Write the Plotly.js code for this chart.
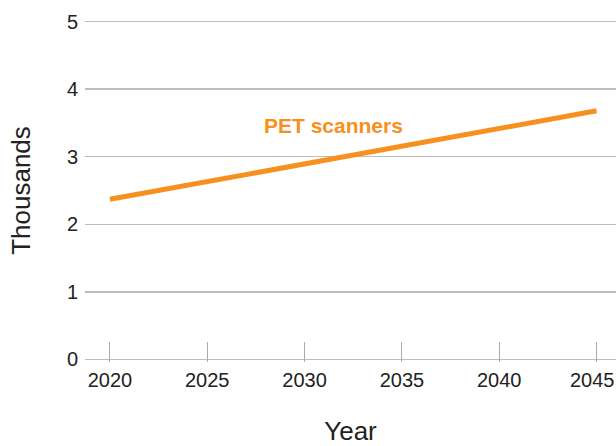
<!DOCTYPE html>
<html>
<head>
<meta charset="utf-8">
<script src="https://cdn.plot.ly/plotly-3.0.1.min.js"></script>
<style>html,body{margin:0;padding:0;background:#fff;}#chart{width:616px;height:446px;}</style>
</head>
<body>
<div id="chart"></div>
<script>
const years = [2020, 2025, 2030, 2035, 2040, 2045];
const petScanners = [2.37, 2.63, 2.89, 3.16, 3.42, 3.68];
const seriesName = "PET scanners";
const xTicks = [2020, 2025, 2030, 2035, 2040, 2045];
const yTicks = [0, 1, 2, 3, 4, 5];

const orange = "#F7901E";
const font = "Liberation Sans, Arial, Helvetica, sans-serif";
const textColor = "#222";

const trace = {
  x: years, y: petScanners, type: "scatter", mode: "lines",
  name: seriesName,
  line: {color: orange, width: 5},
  hoverinfo: "skip"
};

// last tick label sits at the right edge; drawn as an annotation so Plotly does not hide it
const lastTick = xTicks[xTicks.length - 1];

const layout = {
  width: 616, height: 446,
  margin: {l: 85, r: 0, t: 19, b: 84},
  paper_bgcolor: "#fff", plot_bgcolor: "#fff",
  showlegend: false,
  font: {family: font, color: textColor},
  xaxis: {
    range: [2018.72, 2046.0],
    tickvals: xTicks, ticktext: xTicks.map(v => v === lastTick ? "" : String(v)),
    showgrid: false, zeroline: false, showline: false,
    ticks: "inside", ticklen: 20, tickwidth: 1, tickcolor: "#aaa",
    tickfont: {size: 20, color: textColor},
    ticklabelstandoff: 4,
    title: {text: "Year", font: {size: 26, color: textColor}, standoff: 32}
  },
  yaxis: {
    range: [-0.04, 5.04],
    tickvals: yTicks,
    showgrid: true, gridcolor: "#bdbdbd", gridwidth: 1.5,
    zeroline: false, showline: false,
    ticks: "", tickfont: {size: 20, color: textColor},
    ticklabelstandoff: 6,
    title: {text: "Thousands", font: {size: 26, color: textColor}, standoff: 28}
  },
  annotations: [{
    x: 2031.5, y: 3.47, xref: "x", yref: "y",
    text: "<b>" + seriesName + "</b>", showarrow: false,
    font: {size: 21, color: orange, family: font}
  }, {
    x: lastTick, y: 0, xref: "x", yref: "y", yanchor: "top", yshift: -8, xshift: -4,
    text: String(lastTick), showarrow: false,
    font: {size: 20, color: textColor, family: font}
  }]
};

Plotly.newPlot("chart", [trace], layout, {displayModeBar: false, staticPlot: true});
</script>
</body>
</html>
